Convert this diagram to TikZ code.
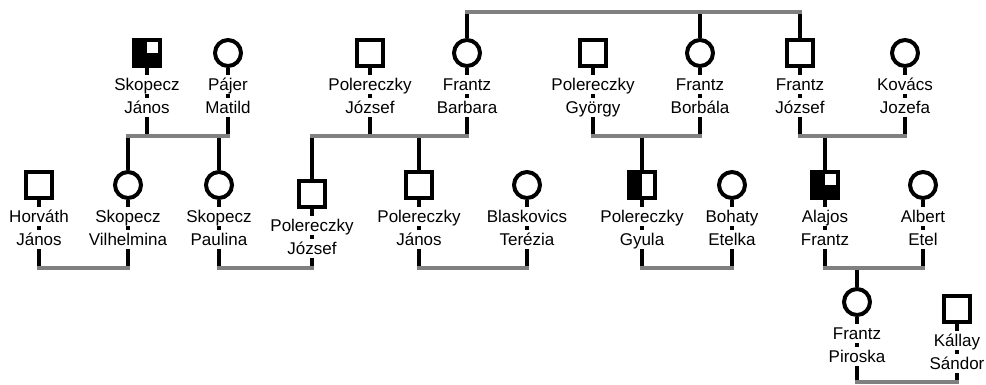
\documentclass[tikz,border=0pt]{standalone}
\usepackage{fontspec}
\setmainfont{Liberation Sans}
\usetikzlibrary{positioning}

\tikzset{
  male/.style={rectangle,draw,line width=4pt,minimum size=26pt,inner sep=0pt},
  female/.style={circle,draw,line width=4pt,minimum size=26pt,inner sep=0pt},
  quarteraff/.style={male,path picture={
    \fill[black] (path picture bounding box.south west) rectangle (path picture bounding box.north east);
    \fill[white] (path picture bounding box.center) rectangle (path picture bounding box.north east);}},
  halfaff/.style={male,path picture={
    \fill[black] (path picture bounding box.south west) rectangle (path picture bounding box.north);}},
  lbl/.style={fill=white,inner sep=0pt,outer sep=0pt,text height=15pt,text depth=4pt,
    font=\fontsize{17pt}{20pt}\selectfont},
  bond/.style={draw=black,line width=4pt},
  union/.style={draw=gray,line width=4pt,line cap=rect}
}

\begin{document}
\begin{tikzpicture}[x=1pt,y=-1pt]
\useasboundingbox (0,0) rectangle (986,384);
% first generation
\node[quarteraff] (sj) at (147,53) {};
\node[female] (pm) at (228,53) {};
\node[male] (pjo) at (370,53) {};
\node[female] (fba) at (467,53) {};
\node[male] (pgy) at (593,53) {};
\node[female] (fbo) at (700,53) {};
\node[male] (fjo) at (800,53) {};
\node[female] (kj) at (905,53) {};
% second generation
\node[male] (hj) at (39,185) {};
\node[female] (sv) at (128,185) {};
\node[female] (sp) at (219,185) {};
\node[male] (pjz) at (312,194) {};
\node[male] (pja) at (419,185) {};
\node[female] (bt) at (527,185) {};
\node[halfaff] (pgu) at (642,185) {};
\node[female] (be) at (732,185) {};
\node[quarteraff] (af) at (825,185) {};
\node[female] (ae) at (923,185) {};
% third generation
\node[female] (fp) at (857,302) {};
\node[male] (ks) at (957,309) {};

\coordinate (top) at (0,12);
\coordinate (u1) at (0,136);
\coordinate (u2) at (0,268);
\coordinate (u3) at (0,382);

% lines down from the symbols
\draw[bond] (sj.south) -- (sj |- u1) (pm.south) -- (pm |- u1)
  (pjo.south) -- (pjo |- u1) (fba.south) -- (fba |- u1)
  (pgy.south) -- (pgy |- u1) (fbo.south) -- (fbo |- u1)
  (fjo.south) -- (fjo |- u1) (kj.south) -- (kj |- u1);
\draw[bond] (hj.south) -- (hj |- u2) (sv.south) -- (sv |- u2)
  (sp.south) -- (sp |- u2) (pjz.south) -- (pjz |- u2)
  (pja.south) -- (pja |- u2) (bt.south) -- (bt |- u2)
  (pgu.south) -- (pgu |- u2) (be.south) -- (be |- u2)
  (af.south) -- (af |- u2) (ae.south) -- (ae |- u2);
\draw[bond] (fp.south) -- (fp |- u3) (ks.south) -- (ks |- u3);
% lines up to the parents
\draw[bond] (fba.north) -- (fba |- top) (fbo.north) -- (fbo |- top)
  (fjo.north) -- (fjo |- top);
\draw[bond] (sv.north) -- (sv |- u1) (sp.north) -- (sp |- u1)
  (pjz.north) -- (pjz |- u1) (pja.north) -- (pja |- u1)
  (pgu.north) -- (pgu |- u1) (af.north) -- (af |- u1);
\draw[bond] (fp.north) -- (fp |- u2);

% names
\node[lbl,below=7pt of sj] (sj1) {Skopecz};
\node[lbl,below=4pt of sj1] (sj2) {János};
\node[lbl,below=7pt of pm] (pm1) {Pájer};
\node[lbl,below=4pt of pm1] (pm2) {Matild};
\node[lbl,below=7pt of pjo] (pjo1) {Polereczky};
\node[lbl,below=4pt of pjo1] (pjo2) {József};
\node[lbl,below=7pt of fba] (fba1) {Frantz};
\node[lbl,below=4pt of fba1] (fba2) {Barbara};
\node[lbl,below=7pt of pgy] (pgy1) {Polereczky};
\node[lbl,below=4pt of pgy1] (pgy2) {György};
\node[lbl,below=7pt of fbo] (fbo1) {Frantz};
\node[lbl,below=4pt of fbo1] (fbo2) {Borbála};
\node[lbl,below=7pt of fjo] (fjo1) {Frantz};
\node[lbl,below=4pt of fjo1] (fjo2) {József};
\node[lbl,below=7pt of kj] (kj1) {Kovács};
\node[lbl,below=4pt of kj1] (kj2) {Jozefa};
\node[lbl,below=7pt of hj] (hj1) {Horváth};
\node[lbl,below=4pt of hj1] (hj2) {János};
\node[lbl,below=7pt of sv] (sv1) {Skopecz};
\node[lbl,below=4pt of sv1] (sv2) {Vilhelmina};
\node[lbl,below=7pt of sp] (sp1) {Skopecz};
\node[lbl,below=4pt of sp1] (sp2) {Paulina};
\node[lbl,below=7pt of pjz] (pjz1) {Polereczky};
\node[lbl,below=4pt of pjz1] (pjz2) {József};
\node[lbl,below=7pt of pja] (pja1) {Polereczky};
\node[lbl,below=4pt of pja1] (pja2) {János};
\node[lbl,below=7pt of bt] (bt1) {Blaskovics};
\node[lbl,below=4pt of bt1] (bt2) {Terézia};
\node[lbl,below=7pt of pgu] (pgu1) {Polereczky};
\node[lbl,below=4pt of pgu1] (pgu2) {Gyula};
\node[lbl,below=7pt of be] (be1) {Bohaty};
\node[lbl,below=4pt of be1] (be2) {Etelka};
\node[lbl,below=7pt of af] (af1) {Alajos};
\node[lbl,below=4pt of af1] (af2) {Frantz};
\node[lbl,below=7pt of ae] (ae1) {Albert};
\node[lbl,below=4pt of ae1] (ae2) {Etel};
\node[lbl,below=7pt of fp] (fp1) {Frantz};
\node[lbl,below=4pt of fp1] (fp2) {Piroska};
\node[lbl,below=7pt of ks] (ks1) {Kállay};
\node[lbl,below=4pt of ks1] (ks2) {Sándor};

% sibship and marriage lines
\draw[union] (fba |- top) -- (fjo |- top);
\draw[union] (sv |- u1) -- (pm |- u1) (pjz |- u1) -- (fba |- u1)
  (pgy |- u1) -- (fbo |- u1) (fjo |- u1) -- (kj |- u1);
\draw[union] (hj |- u2) -- (sv |- u2) (sp |- u2) -- (pjz |- u2)
  (pja |- u2) -- (bt |- u2) (pgu |- u2) -- (be |- u2)
  (af |- u2) -- (ae |- u2);
\draw[union] (fp |- u3) -- (ks |- u3);
\end{tikzpicture}
\end{document}
